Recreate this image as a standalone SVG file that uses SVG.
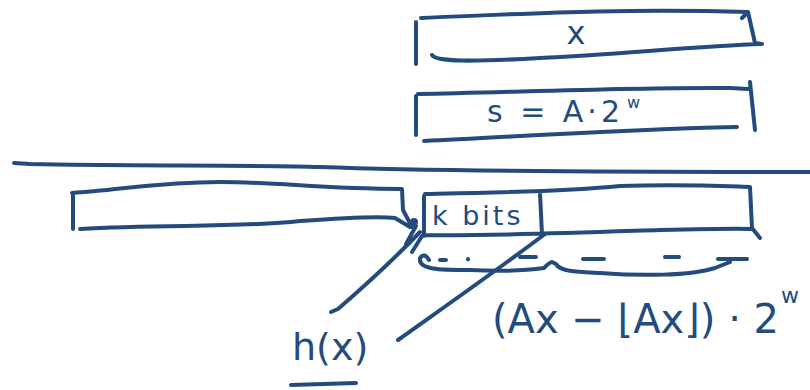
<svg xmlns="http://www.w3.org/2000/svg" width="810" height="390" viewBox="0 0 810 390">
<style>
.s{fill:none;stroke:#234b7e;stroke-width:4;stroke-linecap:round;stroke-linejoin:round}
.t{fill:#234b7e;font-family:"DejaVu Sans","Liberation Sans",sans-serif}
</style>
<rect width="810" height="390" fill="#fff"/>
<g id="x-box">
<path class="s" d="M416,22 L416,64 M421,18 C520,14 620,8 748,12 L755,43 L762,44 M432,55 C436,62 470,62 540,58 C620,54 700,46 762,44 M742,18 L748,12"/>
<text class="t" x="576" y="44" font-size="32" text-anchor="middle">x</text>
</g>
<g id="s-box">
<path class="s" d="M416,96 L416,135 M418,94 C520,92 640,87 730,88 L748,89 M750,82 L755,130 M424,141 C500,138 600,130 737,127"/>
<text class="t" x="487" y="122" font-size="30" letter-spacing="4">s = A·2<tspan dx="3" dy="-14" font-size="16" letter-spacing="0">w</tspan></text>
</g>
<g id="divider">
<path class="s" d="M14,163 L30,164 C120,166 260,165 320,167 C400,170 500,172 810,172"/>
</g>
<g id="left-box">
<path class="s" d="M73,193 L73,229 M72,193 C120,190 160,182 220,182 C280,182 320,189 402,189 L403,210 L412,227 M80,229 C160,224 240,228 300,221 C340,218 380,216 395,218 L410,227"/>
</g>
<g id="hash-box">
<path class="s" d="M424,196 L424,236 M425,194 C480,193 560,192 620,186 C680,184 720,186 750,187 L752,228 L760,238 M425,235 C500,236 600,232 660,230 C700,229 740,228 752,229 M540,193 L542,235"/>
<text class="t" x="432" y="225" font-size="27" letter-spacing="3">k bits</text>
</g>
<g id="fraction-brace">
<path class="s" d="M421,257 C422,255 426,254 429,260 M440,260 L446,260 M468,259 L468,259.5 M520,257 L536,257 M583,259 L604,259 M665,257 L679,257 M718,259 L747,259"/>
<path class="s" d="M420,258 C418,270 440,270 470,270 C510,272 530,270 544,268 C548,264 550,262 552,262 L556,264 C560,272 580,272 600,273 C640,276 690,276 715,268 L730,262"/>
<text class="t" x="492" y="333" font-size="40">(Ax − ⌊Ax⌋) · 2<tspan dx="2" dy="-30" font-size="22">w</tspan></text>
</g>
<g id="hx-label">
<text class="t" x="292" y="360" font-size="38">h(x)</text>
<path class="s" d="M291,385 L356,383"/>
</g>
<g id="connectors">
<path class="s" d="M331,312 L338,309 C360,290 395,258 420,232"/>
<path class="s" d="M398,340 C450,303 500,268 545,234"/>
<path class="s" d="M406,244 L416,226 M412,252 L422,236"/>
<circle cx="414" cy="222" r="4" fill="#234b7e"/>
</g>
</svg>
